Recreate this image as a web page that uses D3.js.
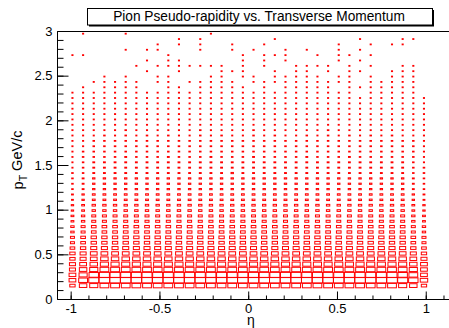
<!DOCTYPE html>
<html><head><meta charset="utf-8">
<script src="https://cdn.jsdelivr.net/npm/d3@7"></script>
<style>body{margin:0;background:#fff}svg{display:block}text{font-family:"Liberation Sans",Arial,Helvetica,sans-serif;fill:#000}</style>
</head><body><svg id="c" width="449" height="328"></svg>
<script>
const chartTitle = "Pion Pseudo-rapidity vs. Transverse Momentum";
const xTitle = "η";
const etaBins = [-0.99,-0.93,-0.87,-0.81,-0.75,-0.69,-0.63,-0.57,-0.51,-0.45,-0.39,-0.33,-0.27,-0.21,-0.15,-0.09,-0.03,
                 0.03,0.09,0.15,0.21,0.27,0.33,0.39,0.45,0.51,0.57,0.63,0.69,0.75,0.81,0.87,0.93,0.99];
const ptBins = [2.97,2.91,2.85,2.79,2.73,2.67,2.61,2.55,2.49,2.43,2.37,2.31,2.25,2.19,2.13,2.07,2.01,1.95,1.89,1.83,
                1.77,1.71,1.65,1.59,1.53,1.47,1.41,1.35,1.29,1.23,1.17,1.11,1.05,0.99,0.93,0.87,0.81,0.75,0.69,0.63,
                0.57,0.51,0.45,0.39,0.33,0.27,0.21,0.15];
const binWidth = 0.06;
// bin content codes (one char per eta bin, '.' = empty), rows follow ptBins
const levelCodes = "123456789ABCDEFGH";
const levelCounts = [1,2,3,5,7,10,14,19,25,32,40,49,58,68,78,88,100];
const gridRows = [
".1...1....|...1......|..........|....",
"..........|1.1......1|.......1..|.11.",
"........1.|1.1..1..1.|.....1..1.|11..",
".....1.11.|..1..1.1..|1.1..1.1..|....",
"11.......1|......1.11|1..1.11.1.|....",
".......1.1|1.....1.1.|1....1.1..|....",
"......1.11|11111.1.1.|.1111.1.1.|.11.",
".......1..|1...111..1|.11.1.11..|111.",
"...1.1..11|...11.11.1|1111.11.1.|111.",
"..11111.11|.11111.111|1111111.11|111.",
".1.1111..1|1.11111.1.|11111.1111|111.",
"1111111111|1111111111|1111111.11|111.",
"1111111111|1111111111|1111111111|1111",
"1111111111|1111111111|1111111111|1111",
"1111111111|1111111111|1111111111|1111",
"1111111111|1111111111|1111111111|1111",
"1111111111|1111111111|1111111111|1111",
"1111111111|1111111111|1111111111|1111",
"1111121111|1121111211|1111211111|1111",
"1112121212|1121211212|1121212121|2111",
"1122222222|2222222222|2222222222|2221",
"1122222222|2222222222|2222222222|2221",
"1222222222|2222222222|2222222222|2221",
"1222232223|2223222322|2232223222|2221",
"1233333333|3333333333|3333333333|3321",
"1233333333|3333333333|3333333333|3322",
"2233333333|3333343333|3333333333|3322",
"2344444444|4444444444|4444444444|4432",
"2344444444|4444444444|4444444444|4432",
"2344444444|4444444444|4444444444|4432",
"3455555555|5555555555|5555555555|5543",
"3455555555|5555555555|5555555555|5543",
"4566666666|6666666666|6666666666|6654",
"4566666666|6666666666|6666666666|6654",
"5677777777|7777777777|7777777777|7765",
"5677777777|7777777777|7777777777|7765",
"6788888888|8888888888|8888888888|8876",
"6788888888|8888888888|8888888888|8876",
"7899999999|9999999999|9999999999|9987",
"7899999999|9999999999|9999999999|9987",
"89AAAAAAAA|AAAAAAAAAA|AAAAAAAAAA|AA98",
"9ABBBBBBBB|BBBBBBBBBB|BBBBBBBBBB|BBA9",
"9ABCCCCCCC|CCCCCCCCCC|CCCCCCCCCC|CCBA",
"ABCDDDDDDD|DDDDDDDDDD|DDDDDDDDDD|DDCB",
"ACDEEEEEEE|EEEEEEEEEE|EEEEEEEEEE|EEDB",
"BDFGGGGGGG|GGGGGGGGGG|GGGGGGGGGG|GFEB",
"BEGHHHHHHH|HHHHHHHHHH|HHHHHHHHHH|HGFC",
"9CDEEEEEEE|EEEEEEEEEE|EEEEEEEEEE|EDC9"
];
const xTickValues = [-1,-0.5,0,0.5,1];
const xTickLabels = ["-1","-0.5","0","0.5","1"];
const yTickValues = [0,0.5,1,1.5,2,2.5,3];
const yTickLabels = ["0","0.5","1","1.5","2","2.5","3"];

const svg = d3.select("#c");
const x = d3.scaleLinear().domain([-1.077, 1.131]).range([57, 449]);
const y = d3.scaleLinear().domain([0, 3]).range([299, 31]);
const maxCount = d3.max(levelCounts);
const frac = d3.scaleSqrt().domain([0, maxCount]).range([0, 1]);

const cells = [];
gridRows.forEach((row, i) => {
  const s = row.replace(/\|/g, "");
  for (let k = 0; k < s.length; k++) {
    const c = s[k];
    if (c === ".") continue;
    cells.push({eta: etaBins[k], pt: ptBins[i], count: levelCounts[levelCodes.indexOf(c)]});
  }
});

const bw = x(binWidth) - x(0), bh = y(0) - y(binWidth);
svg.append("g").selectAll("rect").data(cells).join("rect")
  .attr("x", d => x(d.eta) - Math.max(bw * frac(d.count), 1) / 2)
  .attr("y", d => y(d.pt) - Math.max(bh * frac(d.count), 0.8) / 2)
  .attr("width", d => Math.max(bw * frac(d.count), 1))
  .attr("height", d => Math.max(bh * frac(d.count), 0.8))
  .attr("fill", "none").attr("stroke", "#ff0000").attr("stroke-width", 1);

// frame
svg.append("path").attr("fill", "none").attr("stroke", "#000").attr("stroke-width", 1)
  .attr("d", `M449,31.5H57.5V299.5H449`);

// x axis
const gx = svg.append("g").attr("transform", "translate(0,299.5)");
gx.call(d3.axisBottom(x).tickValues(x.ticks(20)).tickSize(-4).tickFormat(""))
  .call(g => g.select(".domain").remove());
const gxM = svg.append("g").attr("transform", "translate(0,299.5)");
gxM.call(d3.axisBottom(x).tickValues(xTickValues).tickSize(-8).tickPadding(4)
    .tickFormat((d, i) => xTickLabels[i]))
  .call(g => g.select(".domain").remove());
gxM.selectAll("text").attr("font-size", 13).attr("font-family", null);

// y axis
const gy = svg.append("g").attr("transform", "translate(57.5,0)");
gy.call(d3.axisLeft(y).tickValues(y.ticks(30)).tickSize(-6).tickFormat(""))
  .call(g => g.select(".domain").remove());
const gyM = svg.append("g").attr("transform", "translate(57.5,0)");
gyM.call(d3.axisLeft(y).tickValues(yTickValues).tickSize(-11).tickPadding(5)
    .tickFormat((d, i) => yTickLabels[i]))
  .call(g => g.select(".domain").remove());
gyM.selectAll("text").attr("font-size", 13).attr("font-family", null);
svg.selectAll(".tick line").attr("stroke", "#000");
svg.selectAll("g").attr("font-family", null);

// axis titles
svg.append("text").attr("x", 251).attr("y", 325).attr("text-anchor", "middle")
  .attr("font-size", 14).text(xTitle);
const yt = svg.append("text").attr("transform", "translate(23,160) rotate(-90)")
  .attr("text-anchor", "middle").attr("font-size", 14.5);
yt.append("tspan").text("p");
yt.append("tspan").attr("font-size", 10.5).attr("dy", "0.35em").text("T");
yt.append("tspan").attr("dy", "-0.35em").text(" GeV/c");

// title box
svg.append("rect").attr("x", 89).attr("y", 10).attr("width", 345).attr("height", 16.5).attr("fill", "#000");
svg.append("rect").attr("x", 87.5).attr("y", 8.5).attr("width", 345).attr("height", 16.5)
  .attr("fill", "#fff").attr("stroke", "#000").attr("stroke-width", 1);
const tt = svg.append("text").attr("x", 259).attr("y", 21).attr("text-anchor", "middle")
  .attr("font-size", 14).text(chartTitle);
const tw = tt.node().getComputedTextLength();
tt.attr("font-size", 14 * 292 / tw);
</script></body></html>
